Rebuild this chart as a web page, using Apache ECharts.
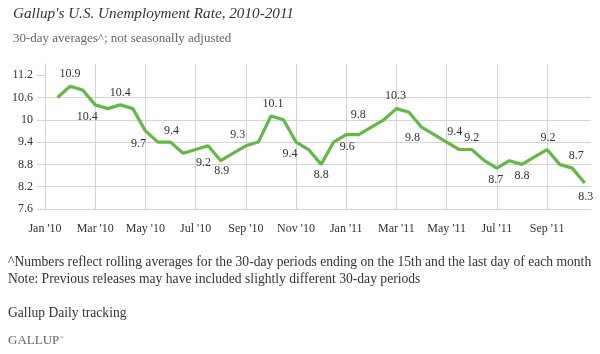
<!DOCTYPE html>
<html>
<head>
<meta charset="utf-8">
<script src="https://cdn.jsdelivr.net/npm/echarts@6/dist/echarts.min.js"></script>
<style>
  html, body { margin: 0; padding: 0; background: #fff; }
  #chart { width: 600px; height: 354px; }
</style>
</head>
<body>
<div id="chart"></div>
<script>
// 30-day rolling averages, ending on the 15th and last day of each month
var periods = [
  "Jan 15 '10", "Jan 31 '10", "Feb 15 '10", "Feb 28 '10", "Mar 15 '10", "Mar 31 '10",
  "Apr 15 '10", "Apr 30 '10", "May 15 '10", "May 31 '10", "Jun 15 '10", "Jun 30 '10",
  "Jul 15 '10", "Jul 31 '10", "Aug 15 '10", "Aug 31 '10", "Sep 15 '10", "Sep 30 '10",
  "Oct 15 '10", "Oct 31 '10", "Nov 15 '10", "Nov 30 '10", "Dec 15 '10", "Dec 31 '10",
  "Jan 15 '11", "Jan 31 '11", "Feb 15 '11", "Feb 28 '11", "Mar 15 '11", "Mar 31 '11",
  "Apr 15 '11", "Apr 30 '11", "May 15 '11", "May 31 '11", "Jun 15 '11", "Jun 30 '11",
  "Jul 15 '11", "Jul 31 '11", "Aug 15 '11", "Aug 31 '11", "Sep 15 '11", "Sep 30 '11",
  "Oct 15 '11"
];
var rate = [
  10.6, 10.9, 10.8, 10.4, 10.3, 10.4, 10.3, 9.7, 9.4, 9.4,
  9.1, 9.2, 9.3, 8.9, 9.1, 9.3, 9.4, 10.1, 10.0, 9.4,
  9.2, 8.8, 9.4, 9.6, 9.6, 9.8, 10.0, 10.3, 10.2, 9.8,
  9.6, 9.4, 9.2, 9.2, 8.9, 8.7, 8.9, 8.8, 9.0, 9.2,
  8.8, 8.7, 8.3
];
var monthTicks = ["Jan '10", "Mar '10", "May '10", "Jul '10", "Sep '10", "Nov '10",
                  "Jan '11", "Mar '11", "May '11", "Jul '11", "Sep '11"];
var yTicks = [7.6, 8.2, 8.8, 9.4, 10, 10.6, 11.2];

// where each shown value label sits relative to its point (point number -> [dx, dy])
var labelOffset = {
  2: [0, -12], 4: [-8, 12], 6: [0, -12], 8: [-7, 13], 10: [1, -11],
  12: [8, 13], 14: [1, 10], 16: [-8, -11], 18: [2, -12], 20: [-6, 12],
  22: [0, 10], 24: [1, 12], 26: [-13, -12], 28: [-1, -13], 30: [-9, 11],
  32: [8, -10], 34: [0, -12], 36: [-1, 12], 38: [0, 11], 40: [1, -12],
  42: [4, -12], 43: [1, 14]
};

var SERIF = '"Liberation Serif", "DejaVu Serif", serif';
var GRID = '#d4d4d4';
var GREEN = '#62b946';

var chart = echarts.init(document.getElementById('chart'), null, {renderer: 'canvas'});

var points = [];
for (var i = 0; i < rate.length; i++) {
  var p = { name: periods[i], value: [i + 1, rate[i]] };
  if (labelOffset[i + 1]) {
    p.label = { show: true, offset: labelOffset[i + 1] };
  }
  points.push(p);
}

var option = {
  animation: false,
  backgroundColor: '#fff',
  title: [
    {
      text: "Gallup's U.S. Unemployment Rate, 2010-2011",
      left: 8, top: 2,
      textStyle: { fontFamily: SERIF, fontStyle: 'italic', fontWeight: 'normal', fontSize: 15.2, color: '#333' }
    },
    {
      text: '30-day averages^; not seasonally adjusted',
      left: 8, top: 27,
      textStyle: { fontFamily: SERIF, fontWeight: 'normal', fontSize: 13, color: '#666' }
    }
  ],
  grid: { left: 45, right: 9, top: 64, bottom: 145, containLabel: false },
  xAxis: {
    type: 'value',
    min: 0,
    max: 43.5,
    interval: 4,
    axisLine: { show: true, lineStyle: { color: GRID } },
    axisTick: { show: false },
    axisLabel: {
      showMaxLabel: false,
      margin: 14,
      color: '#333',
      fontFamily: SERIF,
      fontSize: 12,
      formatter: function (v) { return monthTicks[Math.round(v / 4)] || ''; }
    },
    splitLine: { show: true, showMaxLine: false, lineStyle: { color: GRID } }
  },
  yAxis: {
    type: 'value',
    min: 7.6,
    max: 11.5,
    interval: 0.6,
    axisLine: { show: true, lineStyle: { color: GRID } },
    axisTick: { show: true, length: 8, customValues: yTicks, lineStyle: { color: GRID } },
    axisLabel: {
      customValues: yTicks,
      margin: 12,
      color: '#333',
      fontFamily: SERIF,
      fontSize: 12
    },
    splitLine: { show: true, showMaxLine: false, lineStyle: { color: GRID } }
  },
  series: [{
    type: 'line',
    data: points,
    symbol: 'circle',
    symbolSize: 1,
    showSymbol: true,
    itemStyle: { color: 'transparent', borderWidth: 0 },
    lineStyle: { color: GREEN, width: 3.2 },
    silent: true,
    z: 5,
    label: {
      show: false,
      position: 'inside',
      align: 'center',
      verticalAlign: 'middle',
      color: '#333',
      fontFamily: SERIF,
      fontSize: 12,
      formatter: function (p) { return p.value[1].toFixed(1); }
    }
  }],
  graphic: [
    { type: 'text', left: 8, top: 255,
      style: { text: '^Numbers reflect rolling averages for the 30-day periods ending on the 15th and the last day of each month',
               font: '13.6px ' + SERIF, fill: '#333' } },
    { type: 'text', left: 8, top: 272,
      style: { text: 'Note: Previous releases may have included slightly different 30-day periods',
               font: '13.6px ' + SERIF, fill: '#333' } },
    { type: 'text', left: 8, top: 306,
      style: { text: 'Gallup Daily tracking', font: '13.6px ' + SERIF, fill: '#333' } },
    { type: 'text', left: 8, top: 334,
      style: { text: 'GALLUP', font: '13px ' + SERIF, fill: '#666' } },
    { type: 'text', left: 60, top: 335,
      style: { text: '\u00ae', font: '5px ' + SERIF, fill: '#666' } }
  ]
};

chart.setOption(option);
</script>
</body>
</html>
